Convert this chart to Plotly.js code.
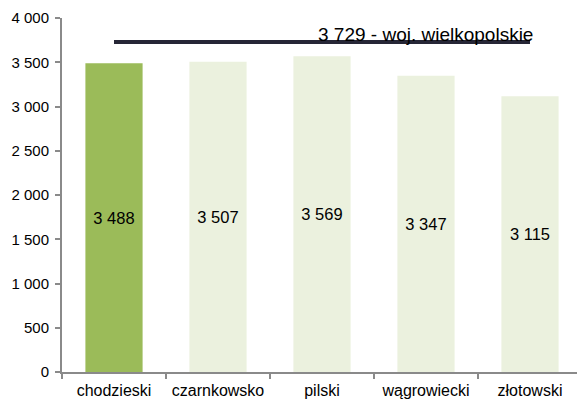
<!DOCTYPE html>
<html>
<head>
<meta charset="utf-8">
<script src="https://cdn.plot.ly/plotly-3.0.1.min.js"></script>
<style>
  body { margin: 0; background: #fff; }
  #chart { width: 577px; height: 402px; }
</style>
</head>
<body>
<div id="chart"></div>
<script>
var powiaty = ['chodzieski', 'czarnkowsko', 'pilski', 'wągrowiecki', 'złotowski'];
var wartosci = [3488, 3507, 3569, 3347, 3115];
var kolory = ['#9BBB59', '#EBF1DE', '#EBF1DE', '#EBF1DE', '#EBF1DE'];
var sredniaWoj = 3729;
var sredniaEtykieta = '3 729 - woj. wielkopolskie';
var yTicks = [0, 500, 1000, 1500, 2000, 2500, 3000, 3500, 4000];
var yTickLabels = ['0', '500', '1 000', '1 500', '2 000', '2 500', '3 000', '3 500', '4 000'];

var bars = {
    x: powiaty,
    y: wartosci,
    type: 'bar',
    marker: { color: kolory },
    texttemplate: '%{y:,}',
    textposition: 'inside',
    insidetextanchor: 'middle',
    textangle: 0,
    textfont: { family: 'Liberation Sans, Arial, sans-serif', size: 16.5, color: '#000' },
    hoverinfo: 'none'
};

var linia = {
    x: powiaty,
    y: powiaty.map(function() { return sredniaWoj; }),
    type: 'scatter',
    mode: 'lines',
    line: { color: '#262636', width: 4 },
    hoverinfo: 'none'
};

var layout = {
    width: 577,
    height: 402,
    margin: { l: 62, r: 0, t: 18, b: 30 },
    separators: ', ',
    showlegend: false,
    bargap: 0.45,
    paper_bgcolor: '#fff',
    plot_bgcolor: '#fff',
    font: { family: 'Liberation Sans, Arial, sans-serif', size: 14, color: '#000' },
    xaxis: {
        showline: true,
        linecolor: '#8a8a8a',
        linewidth: 2,
        ticks: 'outside',
        tickson: 'boundaries',
        ticklen: 5,
        tickcolor: '#8a8a8a',
        tickwidth: 2,
        showgrid: false,
        tickangle: 0,
        tickfont: { size: 16 },
        ticklabelstandoff: 3,
        automargin: false,
        range: [-0.5, 4.452]
    },
    yaxis: {
        range: [0, 4000],
        tickvals: yTicks,
        ticktext: yTickLabels,
        showline: true,
        linecolor: '#8a8a8a',
        linewidth: 2,
        ticks: 'outside',
        ticklen: 5,
        tickcolor: '#8a8a8a',
        tickwidth: 2,
        showgrid: false,
        zeroline: false,
        tickfont: { size: 15 },
        ticklabelstandoff: 3
    },
    annotations: [{
        x: 3.0,
        y: sredniaWoj,
        xref: 'x',
        yref: 'y',
        text: sredniaEtykieta,
        showarrow: false,
        yanchor: 'bottom',
        yshift: -5,
        font: { size: 19, color: '#000' }
    }]
};

Plotly.newPlot('chart', [bars, linia], layout, { displayModeBar: false, staticPlot: true });
</script>
</body>
</html>
